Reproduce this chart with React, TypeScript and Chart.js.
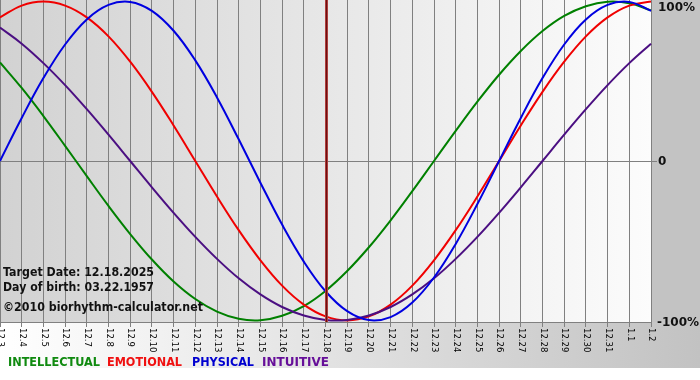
import { useEffect, useRef } from "react";
import { Chart, registerables } from "chart.js";
Chart.register(...registerables);

const dayLabels = [
  "12.3", "12.4", "12.5", "12.6", "12.7", "12.8", "12.9", "12.10", "12.11", "12.12",
  "12.13", "12.14", "12.15", "12.16", "12.17", "12.18", "12.19", "12.20", "12.21", "12.22",
  "12.23", "12.24", "12.25", "12.26", "12.27", "12.28", "12.29", "12.30", "12.31", "1.1", "1.2",
];

const intellectual = [
  61.8, 45.8, 28.2, 9.5, -9.5, -28.2, -45.8, -61.8, -75.6, -86.6, -94.5, -99.0, -99.9, -97.1, -91.0, -81.5,
  -69.0, -54.1, -37.2, -18.9, 0, 18.9, 37.2, 54.1, 69.0, 81.5, 91.0, 97.1, 99.9, 99.0, 94.5,
];
const emotional = [
  90.1, 97.5, 100, 97.5, 90.1, 78.2, 62.3, 43.4, 22.3, 0, -22.3, -43.4, -62.3, -78.2, -90.1, -97.5,
  -100, -97.5, -90.1, -78.2, -62.3, -43.4, -22.3, 0, 22.3, 43.4, 62.3, 78.2, 90.1, 97.5, 100,
];
const physical = [
  0, 27.0, 52.0, 73.1, 88.8, 97.9, 99.8, 94.2, 81.7, 63.1, 39.9, 13.6, -13.6, -39.9, -63.1, -81.7,
  -94.2, -99.8, -97.9, -88.8, -73.1, -52.0, -27.0, 0, 27.0, 52.0, 73.1, 88.8, 97.9, 99.8, 94.2,
];
const intuitive = [
  83.7, 73.6, 61.4, 47.6, 32.5, 16.5, 0, -16.5, -32.5, -47.6, -61.4, -73.6, -83.7, -91.6, -96.9, -99.7,
  -99.7, -96.9, -91.6, -83.7, -73.6, -61.4, -47.6, -32.5, -16.5, 0, 16.5, 32.5, 47.6, 61.4, 73.6,
];

const seriesNames = ["INTELLECTUAL", "EMOTIONAL", "PHYSICAL", "INTUITIVE"];
const yTickValues = [100, 0, -100];
const yTickLabels = ["100%", "0", "-100%"];
const targetDay = "12.18";
const infoLines = ["Target Date: 12.18.2025", "Day of birth: 03.22.1957", "\u00A92010 biorhythm-calculator.net"];

const LINE_COLORS = ["#008000", "#f00000", "#0000e0", "#4b0f82"];
const LEGEND_COLORS = ["#108a10", "#f01010", "#0000d0", "#660f99"];

export default function App() {
  const ref = useRef<HTMLCanvasElement>(null);

  useEffect(() => {
    const canvas = ref.current!;
    const FONT = '"DejaVu Sans", Verdana, sans-serif';

    const bgPlugin = {
      id: "bgPlugin",
      beforeDraw(chart: any) {
        const ctx = chart.ctx as CanvasRenderingContext2D;
        const { left, top, right, bottom } = chart.chartArea;
        const W = chart.width;
        ctx.save();
        ctx.fillStyle = "#ffffff";
        ctx.fillRect(0, 0, W, chart.height);
        const gb = ctx.createLinearGradient(0, 0, W, 0);
        gb.addColorStop(0, "#ffffff");
        gb.addColorStop(1, "#c2c2c2");
        ctx.fillStyle = gb;
        ctx.fillRect(0, bottom, W, 46);
        ctx.fillStyle = "#c3c3c3";
        ctx.fillRect(right, 0, W - right, bottom);
        const gp = ctx.createLinearGradient(left, 0, right, 0);
        gp.addColorStop(0, "#d2d2d2");
        gp.addColorStop(1, "#fcfcfc");
        ctx.fillStyle = gp;
        ctx.fillRect(left, top, right - left, bottom - top);
        ctx.restore();
      },
    };

    const overlayPlugin = {
      id: "overlayPlugin",
      afterDatasetsDraw(chart: any) {
        const ctx = chart.ctx as CanvasRenderingContext2D;
        const { top, bottom } = chart.chartArea;
        const xs = chart.scales.x;
        const x = Math.round(xs.getPixelForValue(dayLabels.indexOf(targetDay))) + 0.5;
        ctx.save();
        ctx.beginPath();
        ctx.moveTo(x, top);
        ctx.lineTo(x, bottom);
        ctx.strokeStyle = "#c04848";
        ctx.lineWidth = 3;
        ctx.stroke();
        ctx.beginPath();
        ctx.moveTo(x, top);
        ctx.lineTo(x, bottom);
        ctx.strokeStyle = "#6a1010";
        ctx.lineWidth = 1.4;
        ctx.stroke();
        ctx.restore();
      },
      afterDraw(chart: any) {
        const ctx = chart.ctx as CanvasRenderingContext2D;
        const { right, bottom } = chart.chartArea;
        const xs = chart.scales.x;
        const ys = chart.scales.y;
        ctx.save();
        ctx.fillStyle = "#000000";
        ctx.font = `8.5px ${FONT}`;
        ctx.textAlign = "left";
        ctx.textBaseline = "middle";
        dayLabels.forEach((lab, i) => {
          const px = xs.getPixelForValue(i);
          ctx.save();
          ctx.translate(px + 0.5, bottom + 6);
          ctx.rotate(Math.PI / 2);
          ctx.fillText(lab, 0, 0);
          ctx.restore();
        });
        ctx.font = `bold 12px ${FONT}`;
        ctx.fillStyle = "#111111";
        yTickValues.forEach((v, i) => {
          const lab = yTickLabels[i];
          let y = ys.getPixelForValue(v);
          if (i === 0) y = 7;
          if (i === yTickValues.length - 1) y = bottom;
          ctx.textBaseline = "middle";
          ctx.fillText(lab, right + (lab.startsWith("-") ? 6 : 7), y + 0.5);
        });
        ctx.textBaseline = "alphabetic";
        ctx.fillStyle = "#111111";
        const infoY = [276, 291, 311];
        const infoW = [151, 151, 200];
        infoLines.forEach((t, i) => {
          ctx.font = `bold 12px ${FONT}`;
          ctx.fillText(t, 3, infoY[i], infoW[i]);
        });
        const legX = [8, 107, 192, 262];
        const legW = [92, 75, 62, 67];
        ctx.font = `bold 12.5px ${FONT}`;
        seriesNames.forEach((n, i) => {
          ctx.fillStyle = LEGEND_COLORS[i];
          ctx.fillText(n, legX[i], 366, legW[i]);
        });
        ctx.restore();
      },
    };

    const seriesData = [intellectual, emotional, physical, intuitive];
    const orders = [3, 2, 0, 1];

    const chart = new Chart(canvas, {
      type: "line",
      data: {
        labels: dayLabels,
        datasets: seriesNames.map((name, i) => ({
          label: name,
          data: seriesData[i],
          borderColor: LINE_COLORS[i],
          backgroundColor: LINE_COLORS[i],
          borderWidth: 2,
          pointRadius: 0,
          tension: 0.4,
          fill: false,
          order: orders[i],
        })),
      },
      options: {
        animation: false,
        responsive: false,
        devicePixelRatio: 1,
        maintainAspectRatio: false,
        layout: { padding: 0 },
        plugins: {
          legend: { display: false },
          tooltip: { enabled: false },
          title: { display: false },
        },
        events: [],
        scales: {
          x: {
            type: "category",
            offset: false,
            grid: {
              color: "#808080",
              lineWidth: 1,
              drawTicks: true,
              tickLength: 5,
              offset: false,
            },
            border: { display: true, color: "#808080", width: 1 },
            ticks: { display: false, autoSkip: false },
            afterFit: (s: any) => {
              s.height = 58;
            },
          },
          y: {
            position: "right",
            min: -101,
            max: 101,
            afterBuildTicks: (s: any) => {
              s.ticks = yTickValues.map((v) => ({ value: v }));
            },
            grid: {
              color: (c: any) => (c.tick && c.tick.value === 0 ? "#808080" : "rgba(0,0,0,0)"),
              lineWidth: 1,
              drawTicks: true,
              tickLength: 6,
            },
            border: { display: false },
            ticks: { display: false },
            afterFit: (s: any) => {
              s.width = 49;
            },
          },
        },
      },
      plugins: [bgPlugin, overlayPlugin],
    } as any);

    return () => chart.destroy();
  }, []);

  return (
    <div style={{ position: "fixed", left: 0, top: 0, width: 700, height: 380 }}>
      <canvas ref={ref} width={700} height={380} style={{ display: "block", width: 700, height: 380 }} />
    </div>
  );
}
